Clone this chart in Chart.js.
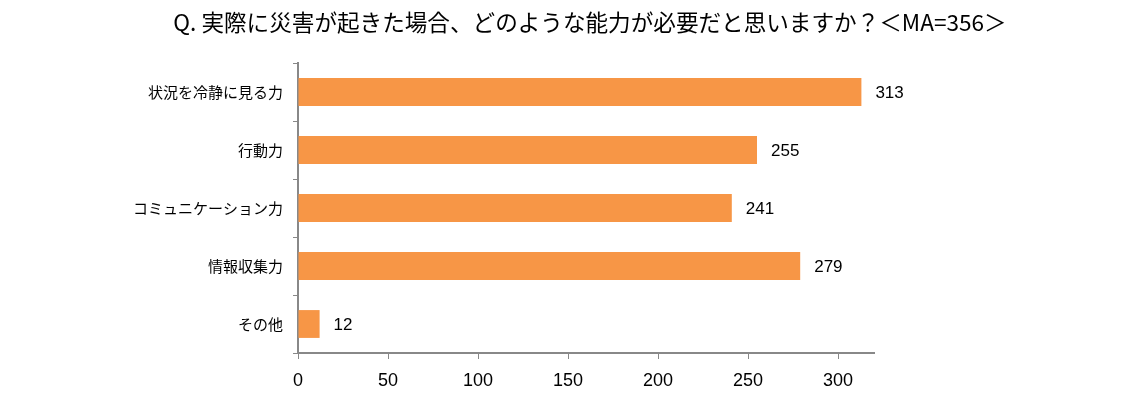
<!DOCTYPE html>
<html>
<head>
<meta charset="utf-8">
<script src="https://cdn.jsdelivr.net/npm/chart.js@4/dist/chart.umd.min.js"></script>
<style>
html,body{margin:0;padding:0;background:#fff;}
#wrap{width:1122px;height:399px;position:relative;}
</style>
</head>
<body>
<div id="wrap"><canvas id="c" width="1122" height="399"></canvas></div>
<script>
const titleText = 'Q. 実際に災害が起きた場合、どのような能力が必要だと思いますか？＜MA=356＞';
const categories = ['状況を冷静に見る力', '行動力', 'コミュニケーション力', '情報収集力', 'その他'];
const values = [313, 255, 241, 279, 12];
const xTicks = [0, 50, 100, 150, 200, 250, 300];

const FONT = '"Noto Sans CJK JP", "Noto Sans", sans-serif';
const NUMFONT = '"Liberation Sans", Arial, sans-serif';

const valueLabels = {
  id: 'valueLabels',
  afterDatasetsDraw(chart) {
    const ctx = chart.ctx;
    const meta = chart.getDatasetMeta(0);
    ctx.save();
    ctx.font = '17px ' + NUMFONT;
    ctx.fillStyle = '#000';
    ctx.textAlign = 'left';
    ctx.textBaseline = 'middle';
    meta.data.forEach((bar, i) => {
      ctx.fillText(String(values[i]), bar.x + 14, bar.y + 1);
    });
    ctx.restore();
  }
};

const centeredTitle = {
  id: 'centeredTitle',
  afterDraw(chart) {
    const ctx = chart.ctx;
    ctx.save();
    ctx.font = '22.6px ' + FONT;
    ctx.fillStyle = '#000';
    ctx.textAlign = 'center';
    ctx.textBaseline = 'middle';
    ctx.fillText(titleText, 590, 22);
    ctx.restore();
  }
};

new Chart(document.getElementById('c'), {
  type: 'bar',
  data: {
    labels: categories,
    datasets: [{
      data: values,
      backgroundColor: '#F79646',
      borderWidth: 0,
      categoryPercentage: 0.48,
      barPercentage: 1.0
    }]
  },
  options: {
    indexAxis: 'y',
    responsive: false,
    animation: false,
    devicePixelRatio: 1,
    layout: { padding: { top: 63, left: 0, right: 248, bottom: 0 } },
    plugins: {
      legend: { display: false },
      tooltip: { enabled: false },
      title: { display: false }
    },
    scales: {
      x: {
        min: 0,
        max: 320,
        afterBuildTicks(scale) { scale.ticks = xTicks.map(v => ({ value: v })); },
        afterFit(scale) { scale.height = 46; },
        ticks: {
          includeBounds: false,
          color: '#000',
          padding: 11,
          font: { family: NUMFONT, size: 18 }
        },
        grid: { drawOnChartArea: false, drawTicks: true, tickLength: 6, color: '#888' },
        border: { color: '#888', width: 2 }
      },
      y: {
        afterFit(scale) { scale.width = 298; },
        ticks: {
          color: '#000',
          padding: 10,
          font: { family: FONT, size: 15 }
        },
        grid: { drawOnChartArea: false, drawTicks: true, tickLength: 5, color: '#888', offset: true },
        border: { color: '#888', width: 2 }
      }
    }
  },
  plugins: [valueLabels, centeredTitle]
});
</script>
</body>
</html>
